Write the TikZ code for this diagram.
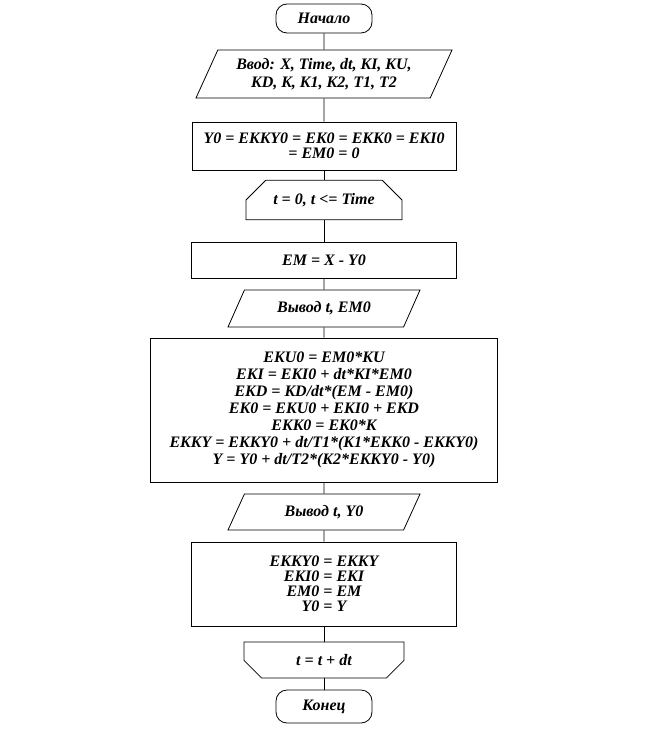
\documentclass[tikz,border=0pt]{standalone}
\usepackage{fontspec}
\setmainfont{Liberation Serif}
\usepackage{tikz}
\usetikzlibrary{shapes.geometric,shapes.misc}
\tikzstyle{term} = [draw, rectangle, rounded corners=11pt, minimum width=96pt, minimum height=29pt, inner sep=1pt]
\tikzstyle{proc} = [draw, rectangle, align=center, inner sep=1pt]
\tikzstyle{io} = [draw, trapezium, trapezium stretches body, align=center, inner sep=1pt]
\tikzstyle{loopbeg} = [draw, chamfered rectangle, chamfered rectangle corners={north west,north east},
    chamfered rectangle xsep=14pt, chamfered rectangle ysep=12pt, minimum width=156pt, minimum height=36pt, inner sep=1pt]
\tikzstyle{loopend} = [draw, chamfered rectangle, chamfered rectangle corners={south west,south east},
    chamfered rectangle xsep=14pt, chamfered rectangle ysep=11pt, minimum width=160pt, minimum height=36pt, inner sep=1pt]
\tikzstyle{link} = [line width=0.8pt]

\begin{document}
\begin{tikzpicture}[x=1pt,y=-1pt,line width=0.8pt,every node/.style={font=\fontsize{16}{17}\selectfont\bfseries\itshape}]
    \useasboundingbox (0,0) rectangle (648,735);
    \node[term] (start) at (324,18.5) {Начало};
    \node[io, trapezium left angle=57, trapezium right angle=123, minimum width=256pt, minimum height=48pt,
        font=\fontsize{16}{18}\selectfont\bfseries\itshape] (input) at (324,74)
        {Ввод: X, Time, dt, KI, KU,\\KD, K, K1, K2, T1, T2};
    \node[proc, minimum width=264pt, minimum height=48pt, font=\fontsize{16}{15}\selectfont\bfseries\itshape] (init) at (324,146)
        {Y0 = EKKY0 = EK0 = EKK0 = EKI0\\= EM0 = 0};
    \node[loopbeg] (loopA) at (324,200) {t = 0, t <= Time};
    \node[proc, minimum width=265pt, minimum height=36pt] (em) at (324,260) {EM = X - Y0};
    \node[io, trapezium left angle=43.5, trapezium right angle=136.5, minimum width=192pt, minimum height=37pt] (outEM) at (324,308.5)
        {Вывод t, EM0};
    \node[proc, minimum width=347pt, minimum height=144pt] (calc) at (324,410)
        {EKU0 = EM0*KU\\EKI = EKI0 + dt*KI*EM0\\EKD = KD/dt*(EM - EM0)\\EK0 = EKU0 + EKI0 + EKD\\
         EKK0 = EK0*K\\EKKY = EKKY0 + dt/T1*(K1*EKK0 - EKKY0)\\Y = Y0 + dt/T2*(K2*EKKY0 - Y0)};
    \node[io, trapezium left angle=43.5, trapezium right angle=136.5, minimum width=192pt, minimum height=36pt] (outY) at (324,512)
        {Вывод t, Y0};
    \node[proc, minimum width=265pt, minimum height=84pt, font=\fontsize{16}{15}\selectfont\bfseries\itshape] (upd) at (324,584)
        {EKKY0 = EKKY\\EKI0 = EKI\\EM0 = EM\\Y0 = Y};
    \node[loopend] (loopB) at (324,660) {t = t + dt};
    \node[term, minimum height=33pt] (finish) at (324,706.5) {Конец};
    % connectors
    \draw[link] (start.south) -- (input.north);
    \draw[link] (input.south) -- (init.north);
    \draw[link] (init.south) -- (loopA.north);
    \draw[link] (loopA.south) -- (em.north);
    \draw[link] (em.south) -- (outEM.north);
    \draw[link] (outEM.south) -- (calc.north);
    \draw[link] (calc.south) -- (outY.north);
    \draw[link] (outY.south) -- (upd.north);
    \draw[link] (upd.south) -- (loopB.north);
    \draw[link] (loopB.south) -- (finish.north);
\end{tikzpicture}
\end{document}
